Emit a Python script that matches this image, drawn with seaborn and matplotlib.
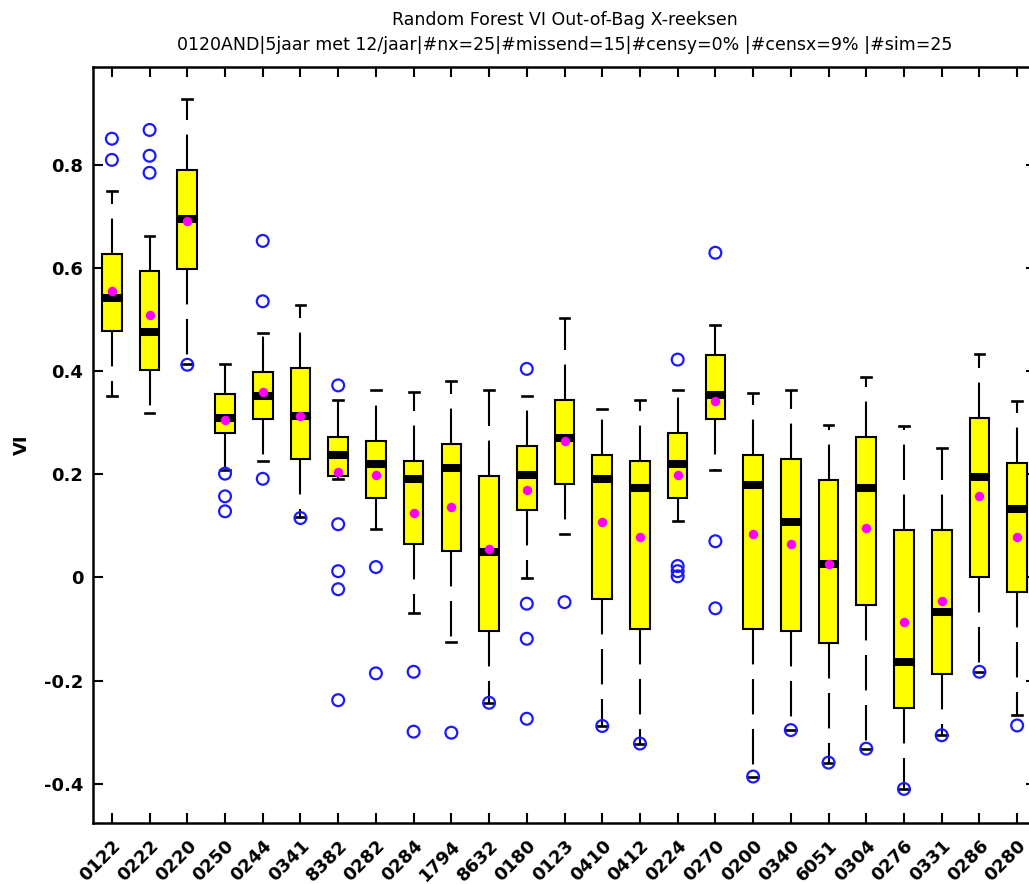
import numpy as np
import pandas as pd
import matplotlib
matplotlib.use("Agg")
import matplotlib.pyplot as plt
import seaborn as sns

categories = ["0122", "0222", "0220", "0250", "0244", "0341", "8382", "0282", "0284", "1794",
              "8632", "0180", "0123", "0410", "0412", "0224", "0270", "0200", "0340", "6051",
              "0304", "0276", "0331", "0286", "0280"]
q1 = [0.477, 0.401, 0.598, 0.280, 0.306, 0.230, 0.197, 0.154, 0.064, 0.051,
      -0.104, 0.130, 0.180, -0.041, -0.100, 0.154, 0.306, -0.100, -0.104, -0.128,
      -0.054, -0.254, -0.188, 0.001, -0.028]
median = [0.541, 0.475, 0.695, 0.309, 0.351, 0.312, 0.237, 0.220, 0.191, 0.212,
          0.049, 0.198, 0.270, 0.191, 0.174, 0.220, 0.354, 0.179, 0.107, 0.026,
          0.174, -0.164, -0.068, 0.195, 0.132]
q3 = [0.627, 0.593, 0.790, 0.356, 0.398, 0.406, 0.272, 0.264, 0.225, 0.258,
      0.196, 0.254, 0.343, 0.238, 0.226, 0.280, 0.430, 0.237, 0.229, 0.188,
      0.272, 0.092, 0.092, 0.309, 0.221]
whisker_low = [0.351, 0.318, 0.414, 0.208, 0.225, 0.117, 0.190, 0.093, -0.070, -0.125,
               -0.243, -0.001, 0.085, -0.288, -0.322, 0.109, 0.209, -0.386, -0.296, -0.359,
               -0.332, -0.410, -0.306, -0.183, -0.267]
whisker_high = [0.748, 0.661, 0.927, 0.414, 0.474, 0.527, 0.343, 0.364, 0.360, 0.380,
                0.364, 0.351, 0.503, 0.327, 0.343, 0.364, 0.489, 0.358, 0.364, 0.296,
                0.389, 0.293, 0.251, 0.432, 0.341]
means = [0.554, 0.508, 0.691, 0.304, 0.359, 0.312, 0.204, 0.198, 0.124, 0.136,
         0.054, 0.169, 0.264, 0.108, 0.079, 0.199, 0.341, 0.084, 0.065, 0.025,
         0.095, -0.086, -0.046, 0.157, 0.079]
outliers = [
    [0.850, 0.809],
    [0.867, 0.817, 0.784],
    [0.412],
    [0.201, 0.157, 0.128],
    [0.652, 0.535, 0.191],
    [0.115],
    [0.372, 0.103, 0.012, -0.023, -0.238],
    [0.020, -0.186],
    [-0.183, -0.299],
    [-0.301],
    [-0.243],
    [0.404, -0.051, -0.119, -0.274],
    [-0.048],
    [-0.288],
    [-0.322],
    [0.422, 0.022, 0.012, 0.002],
    [0.629, 0.070, -0.060],
    [-0.386],
    [-0.296],
    [-0.359],
    [-0.332],
    [-0.410],
    [-0.306],
    [-0.183],
    [-0.287],
]

title_line1 = "Random Forest VI Out-of-Bag X-reeksen"
title_line2 = "0120AND|5jaar met 12/jaar|#nx=25|#missend=15|#censy=0% |#censx=9% |#sim=25"
y_label = "VI"
y_ticks = [-0.4, -0.2, 0.0, 0.2, 0.4, 0.6, 0.8]
y_tick_labels = ["-0.4", "-0.2", "0", "0.2", "0.4", "0.6", "0.8"]

plt.rcParams["font.family"] = ["DejaVu Sans"]

# long tables built from the summary arrays
box_rows = []
for c, lo, a, m, b, hi in zip(categories, whisker_low, q1, median, q3, whisker_high):
    for v in (lo, a, m, b, hi):
        box_rows.append((c, v))
box_df = pd.DataFrame(box_rows, columns=["station", "VI"])
out_df = pd.DataFrame([(c, v) for c, vals in zip(categories, outliers) for v in vals],
                      columns=["station", "VI"])
mean_df = pd.DataFrame({"station": categories, "VI": means})

W, H = 1029, 884
fig = plt.figure(figsize=(W / 100, H / 100), dpi=100)
ax = fig.add_axes([93 / W, 61 / H, 943 / W, 756 / H])

sns.boxplot(data=box_df, x="station", y="VI", order=categories, whis=(0, 100),
            showfliers=False, color="#ffff00", saturation=1, linecolor="black",
            linewidth=1.5, width=0.52,
            medianprops=dict(color="black", linewidth=5.8, solid_capstyle="butt"),
            whiskerprops=dict(linestyle=(0, (17, 7)), linewidth=1.5),
            capprops=dict(linewidth=1.9),
            ax=ax)

n0 = len(ax.collections)
sns.stripplot(data=out_df, x="station", y="VI", order=categories, jitter=False,
              color="blue", marker="o", size=8.5, linewidth=1.6, edgecolor="blue",
              ax=ax, zorder=4)
for coll in ax.collections[n0:]:
    coll.set_facecolor("none")
    coll.set_edgecolor("#1a1aff")

sns.stripplot(data=mean_df, x="station", y="VI", order=categories, jitter=False,
              color="#ff00ff", marker="o", size=6.8, linewidth=0, ax=ax, zorder=5)

ax.set_xlim(-0.5, 24.5)
ax.set_ylim(-0.476, 0.989)
ax.set_yticks(y_ticks, labels=y_tick_labels)
ax.tick_params(direction="in", length=7, width=1.5, top=True, right=True,
               labelsize=13, colors="black")
ax.tick_params(axis="y", pad=7)
ax.tick_params(axis="x", pad=10)
for lbl in ax.get_xticklabels():
    lbl.set_fontweight("bold")
    lbl.set_rotation(45)
    lbl.set_ha("right")
    lbl.set_va("top")
    lbl.set_rotation_mode("anchor")
for lbl in ax.get_yticklabels():
    lbl.set_fontweight("bold")

ax.set_xlabel("")
ax.set_ylabel(y_label, fontweight="bold", fontsize=13, labelpad=9)
for s in ax.spines.values():
    s.set_linewidth(1.8)
    s.set_color("black")
ax.grid(False)
ax.set_facecolor("white")

ax.set_title(title_line1 + "\n" + title_line2, fontsize=12.5, linespacing=1.55, pad=12)

fig.savefig("out.png", dpi=100, facecolor="white")
